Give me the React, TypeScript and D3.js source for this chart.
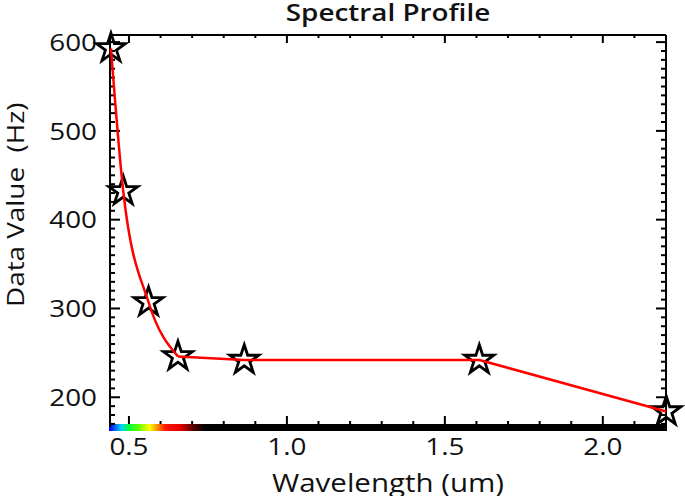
import * as d3 from "d3";
import React, { useEffect, useRef } from "react";

// band centres (um) and values
const wavelengths = [0.443, 0.482, 0.562, 0.655, 0.865, 1.609, 2.201];
const values = [593, 432, 307, 246, 242, 242, 184];

const xMajorTicks = [0.5, 1.0, 1.5, 2.0];
const yMajorTicks = [200, 300, 400, 500, 600];

// visible spectrum strip under the x axis
const specWl = [0.44, 0.455, 0.475, 0.5, 0.53, 0.565, 0.59, 0.615, 0.665, 0.7, 0.74];
const specColor = ["#0000ff", "#0060ff", "#00d0ff", "#00ff40", "#60ff00", "#ffff00", "#ff9000", "#ff1800", "#e00000", "#600000", "#000000"];

const W = 685;
const H = 496;
const margin = { top: 35, right: 19, bottom: 69, left: 110 };
const FONT = "'Open Sans', 'Segoe UI', sans-serif";
const STRETCH = 1.16; // reference glyphs are a bit wider than Open Sans

const SpectralChart: React.FC = () => {
  const ref = useRef<SVGSVGElement>(null);

  useEffect(() => {
    if (!ref.current) return;
    const svg = d3.select(ref.current);
    svg.selectAll("*").remove();

    const x0 = margin.left;
    const x1 = W - margin.right;
    const y0 = margin.top;
    const y1 = H - margin.bottom;

    const x = d3.scaleLinear().domain([0.44, 2.2]).range([x0, x1]);
    const y = d3.scaleLinear().domain([166.5, 608]).range([y1, y0]);

    // spectrum gradient
    const grad = svg
      .append("defs")
      .append("linearGradient")
      .attr("id", "spec")
      .attr("gradientUnits", "userSpaceOnUse")
      .attr("x1", x0)
      .attr("x2", x1)
      .attr("y1", 0)
      .attr("y2", 0);
    specWl.forEach((w, i) => {
      grad
        .append("stop")
        .attr("offset", (x(w) - x0) / (x1 - x0))
        .attr("stop-color", specColor[i]);
    });

    svg
      .append("rect")
      .attr("x", x0 - 1)
      .attr("y", y1 - 3)
      .attr("width", x1 - x0 + 2)
      .attr("height", 7)
      .attr("fill", "url(#spec)");

    // frame
    const frame = svg.append("g").attr("stroke", "#000").attr("stroke-width", 2).attr("fill", "none");
    frame.append("line").attr("x1", x0).attr("x2", x0).attr("y1", y0).attr("y2", y1);
    frame.append("line").attr("x1", x1).attr("x2", x1).attr("y1", y0).attr("y2", y1);
    frame.append("line").attr("x1", x0).attr("x2", x1).attr("y1", y0).attr("y2", y0);

    const majLen = 10;
    const minLen = 5;
    const ticks = svg.append("g").attr("stroke", "#000").attr("stroke-width", 2);

    // x ticks (top and bottom)
    const xMinor = d3.range(5, 23).map((d) => d / 10);
    xMinor.forEach((t) => {
      const isMaj = xMajorTicks.some((m) => Math.abs(m - t) < 1e-6);
      const len = isMaj ? majLen : minLen;
      const px = x(t);
      ticks.append("line").attr("x1", px).attr("x2", px).attr("y1", y0).attr("y2", y0 + len - 2);
      ticks.append("line").attr("x1", px).attr("x2", px).attr("y1", y1 - 3).attr("y2", y1 - 3 - len + 2);
    });

    // y ticks (left and right)
    const yMinor = d3.range(170, 610, 10);
    yMinor.forEach((t) => {
      const isMaj = t % 100 === 0;
      const len = isMaj ? majLen : minLen;
      const py = y(t);
      ticks.append("line").attr("x1", x0).attr("x2", x0 + len).attr("y1", py).attr("y2", py);
      ticks.append("line").attr("x1", x1).attr("x2", x1 - len).attr("y1", py).attr("y2", py);
    });

    // tick labels
    svg
      .append("g")
      .selectAll("text")
      .data(xMajorTicks)
      .enter()
      .append("text")
      .attr("transform", (d) => `translate(${x(d)},455) scale(${STRETCH},1)`)
      .attr("text-anchor", "middle")
      .style("font-family", FONT)
      .style("font-size", "24px")
      .style("fill", "#111")
      .text((d) => d.toFixed(1));

    svg
      .append("g")
      .selectAll("text")
      .data(yMajorTicks)
      .enter()
      .append("text")
      .attr("transform", (d) => `translate(97,${y(d)}) scale(${STRETCH},1)`)
      .attr("dy", "0.36em")
      .attr("text-anchor", "end")
      .style("font-family", FONT)
      .style("font-size", "24px")
      .style("fill", "#111")
      .text((d) => d);

    // titles
    svg
      .append("text")
      .attr("transform", `translate(${(x0 + x1) / 2},21) scale(${STRETCH},1)`)
      .attr("text-anchor", "middle")
      .style("font-family", FONT)
      .style("font-size", "24px")
      .style("font-weight", 600)
      .style("fill", "#111")
      .text("Spectral Profile");

    svg
      .append("text")
      .attr("transform", `translate(${(x0 + x1) / 2},492) scale(${STRETCH + 0.02},1)`)
      .attr("text-anchor", "middle")
      .style("font-family", FONT)
      .style("font-size", "25px")
      .style("fill", "#111")
      .text("Wavelength (um)");

    svg
      .append("text")
      .attr("transform", `translate(24,307) rotate(-90) scale(${STRETCH},1)`)
      .attr("text-anchor", "start")
      .style("font-family", FONT)
      .style("font-size", "24px")
      .style("fill", "#111")
      .style("white-space", "pre")
      .text("Data Value  (Hz)");

    // star markers
    const star = d3.symbol().type(d3.symbolStar).size(260);
    svg
      .append("g")
      .selectAll("path")
      .data(wavelengths)
      .enter()
      .append("path")
      .attr("transform", (d, i) => `translate(${x(d)},${y(values[i])})`)
      .attr("d", star)
      .attr("fill", "none")
      .attr("stroke", "#000")
      .attr("stroke-width", 2.8)
      .attr("stroke-linejoin", "miter");

    // profile line: smooth through the visible bands, straight beyond
    const smooth = d3
      .line<number>()
      .x((d) => x(d))
      .y((d) => y(values[wavelengths.indexOf(d)]))
      .curve(d3.curveMonotoneX);
    const straight = d3
      .line<number>()
      .x((d) => x(d))
      .y((d) => y(values[wavelengths.indexOf(d)]))
      .curve(d3.curveLinear);

    const lineG = svg.append("g").attr("fill", "none").attr("stroke", "#ff0000").attr("stroke-width", 2.5).attr("stroke-linejoin", "round");
    lineG.append("path").datum(wavelengths.slice(0, 4)).attr("d", smooth);
    lineG.append("path").datum(wavelengths.slice(3)).attr("d", straight);
  }, []);

  return (
    <svg
      ref={ref}
      width={W}
      height={H}
      style={{ position: "absolute", left: 0, top: 0, background: "#fff" }}
    ></svg>
  );
};

export default function App() {
  return <SpectralChart />;
}
